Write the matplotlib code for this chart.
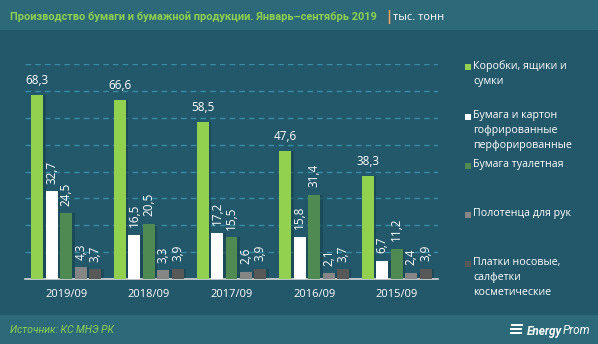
import matplotlib.pyplot as plt
import matplotlib.patches as mpatches
import numpy as np

plt.rcParams['font.family'] = ['Open Sans', 'DejaVu Sans']

years = ['2019/09', '2018/09', '2017/09', '2016/09', '2015/09']
series_names = ['Коробки, ящики и\nсумки',
                'Бумага и картон\nгофрированные\nперфорированные',
                'Бумага туалетная',
                'Полотенца для рук',
                'Платки носовые,\nсалфетки\nкосметические']
boxes = [68.3, 66.6, 58.5, 47.6, 38.3]
corrugated = [32.7, 16.5, 17.2, 15.8, 6.7]
toilet = [24.5, 20.5, 15.5, 31.4, 11.2]
towels = [4.3, 3.3, 2.6, 2.1, 2.4]
tissues = [3.7, 3.9, 3.9, 3.7, 3.9]
colors = ['#92d050', '#ffffff', '#4f8a52', '#868686', '#585858']

bg = '#22586a'
W, H = 598, 344
fig = plt.figure(figsize=(W / 100, H / 100), dpi=100)
fig.patch.set_facecolor(bg)

# header and footer bands
fig.patches.append(mpatches.Rectangle((0, 1 - 30 / H), 1, 30 / H, transform=fig.transFigure,
                                      facecolor='#2c6a79', edgecolor='none', zorder=0))
fig.patches.append(mpatches.Rectangle((0, 0), 1, 29 / H, transform=fig.transFigure,
                                      facecolor='#2c6a79', edgecolor='none', zorder=0))

ax = fig.add_axes([25 / W, 1 - 279 / H, 413 / W, 215 / H])
ax.set_facecolor('none')
ax.set_xlim(-0.5, 4.5)
ax.set_ylim(0, 80)

x = np.arange(len(years))
bw = 0.145
step = 0.175
data = [boxes, corrugated, toilet, towels, tissues]
for k, vals in enumerate(data):
    pos = x + (k - 2) * step
    # soft shadow
    ax.bar(pos + 0.03, vals, bw, color='#163f4c', alpha=0.55, zorder=2)
    ax.bar(pos, vals, bw, color=colors[k], zorder=3)
    for p, v in zip(pos, vals):
        lbl = f'{v:.1f}'.replace('.', ',')
        if k == 0:
            ax.text(p, v + 3, lbl, ha='center', va='bottom', color='white', fontsize=8.5)
        else:
            ax.text(p, v + 2.8, lbl, ha='center', va='bottom', color='white',
                    fontsize=8.5, rotation=90)

ax.set_yticks(np.arange(10, 90, 10))
ax.yaxis.grid(True, color='#3a8ca4', linestyle=(0, (4, 3)), linewidth=1)
ax.set_axisbelow(True)
ax.tick_params(axis='y', left=False, labelleft=False)
ax.set_xticks(x)
ax.set_xticklabels(years, color='white', fontsize=8)
ax.tick_params(axis='x', length=0, pad=7)
for s in ['top', 'right', 'left']:
    ax.spines[s].set_visible(False)
ax.spines['bottom'].set_color('#d8d8d8')
ax.spines['bottom'].set_linewidth(1.2)

# legend
leg_y = [67, 117, 166, 215, 264]
for name, c, yy in zip(series_names, colors, leg_y):
    fig.patches.append(mpatches.Rectangle((465 / W, 1 - (yy + 3) / H), 6 / W, 6 / H,
                                          transform=fig.transFigure, facecolor=c,
                                          edgecolor='none'))
    fig.text(473 / W, 1 - (yy - 7) / H, name, color='white', fontsize=7.7,
             va='top', ha='left', linespacing=1.5)

# title, shrunk to fit the width it takes in the reference
title = fig.text(10 / W, 1 - 17 / H, 'Производство бумаги и бумажной продукции. Январь–сентябрь 2019',
                 color='#8fd14f', fontsize=9.5, fontweight='bold', va='center',
                 family=['Roboto', 'DejaVu Sans'])
r = fig.canvas.get_renderer()
tw = title.get_window_extent(r).width
title.set_fontsize(9.5 * 371 / tw)
fig.text(386 / W, 1 - 17 / H, '|', color='#f0a060', fontsize=10, fontweight='bold',
         va='center', family=['DejaVu Sans'])
fig.text(393 / W, 1 - 17 / H, 'тыс. тонн', color='white', fontsize=8, va='center')

# footer
fig.text(10 / W, 1 - 330 / H, 'Источник: КС МНЭ РК', color='#8fd14f', fontsize=7.5,
         style='italic', va='center', family=['Roboto', 'DejaVu Sans'])
fig.text(527 / W, 1 - 331 / H, 'Energy', color='white', fontsize=8.5, fontweight='bold',
         style='italic', va='center', family=['Roboto', 'DejaVu Sans'])
fig.text(563 / W, 1 - 331 / H, 'Prom', color='white', fontsize=8.5, style='italic',
         va='center', family=['Roboto', 'DejaVu Sans'])
for i in range(3):
    fig.patches.append(mpatches.Rectangle(((511 - i * 0.7) / W, 1 - (326 + i * 4) / H), 12 / W, 2.5 / H,
                                          transform=fig.transFigure, facecolor='white',
                                          edgecolor='none'))

fig.savefig('out.png', dpi=100, facecolor=fig.get_facecolor())
